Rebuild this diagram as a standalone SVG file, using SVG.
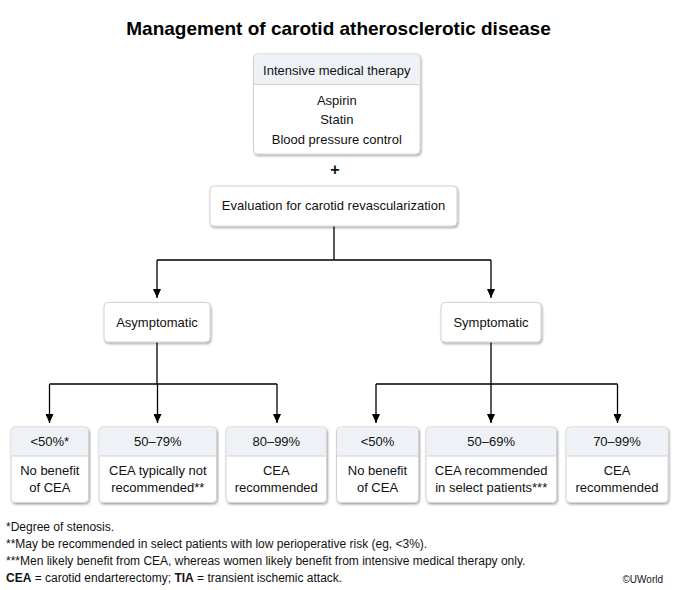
<svg xmlns="http://www.w3.org/2000/svg" width="677" height="590" viewBox="0 0 677 590">
<defs>
<filter id="sh" x="-10%" y="-10%" width="125%" height="130%">
<feDropShadow dx="1" dy="1.5" stdDeviation="1.2" flood-color="#000" flood-opacity="0.35"/>
</filter>
<marker id="ah" markerWidth="9" markerHeight="8" refX="9" refY="4" orient="auto" markerUnits="userSpaceOnUse" viewBox="0 0 9 8">
<path d="M0,0 L9,4 L0,8 Z" fill="#000"/>
</marker>
</defs>
<style>
text{font-family:"Liberation Sans",Arial,sans-serif;fill:#111;}
.t{font-size:13px;text-anchor:middle;}
.box{fill:#fff;stroke:#d2d2d2;stroke-width:1;filter:url(#sh);}
.hd{fill:#eef2f6;}
.dv{stroke:#d2d2d2;stroke-width:1;}
.ln{fill:none;stroke:#000;stroke-width:1.3;}
.fn{font-size:12px;}
</style>
<rect width="677" height="590" fill="#fff"/>
<text x="338.5" y="35" style="font-size:19px;font-weight:bold;text-anchor:middle;fill:#000">Management of carotid atherosclerotic disease</text>

<g id="connectors">
<path class="ln" d="M334,226 V260 M157,260 H491"/>
<path class="ln" d="M157,260 V298" marker-end="url(#ah)"/>
<path class="ln" d="M491,260 V298" marker-end="url(#ah)"/>
<path class="ln" d="M157,342 V384 M49.5,384 H277"/>
<path class="ln" d="M49.5,384 V423" marker-end="url(#ah)"/>
<path class="ln" d="M157.5,384 V423" marker-end="url(#ah)"/>
<path class="ln" d="M277,384 V423" marker-end="url(#ah)"/>
<path class="ln" d="M491,342 V384 M376,384 H617.5"/>
<path class="ln" d="M376,384 V423" marker-end="url(#ah)"/>
<path class="ln" d="M491,384 V423" marker-end="url(#ah)"/>
<path class="ln" d="M617.5,384 V423" marker-end="url(#ah)"/>
</g>

<g id="therapy">
<rect class="box" x="253.5" y="54" width="166.5" height="100" rx="4"/>
<path class="hd" d="M257.5,54.5 H416 A3.5,3.5 0 0 1 419.5,58 V84 H254 V58 A3.5,3.5 0 0 1 257.5,54.5 Z"/>
<line class="dv" x1="254" y1="84.5" x2="419.5" y2="84.5"/>
<text class="t" x="336.8" y="75">Intensive medical therapy</text>
<text class="t" x="336.8" y="104.5">Aspirin</text>
<text class="t" x="336.8" y="124">Statin</text>
<text class="t" x="336.8" y="143.5">Blood pressure control</text>
</g>

<text x="335" y="175" style="font-size:16px;font-weight:bold;text-anchor:middle">+</text>

<g id="evaluation">
<rect class="box" x="210" y="186" width="247" height="40" rx="4"/>
<text class="t" x="333.5" y="209.5">Evaluation for carotid revascularization</text>
</g>

<g id="asymptomatic">
<rect class="box" x="104" y="302.5" width="106" height="39.5" rx="4"/>
<text class="t" x="157" y="326.5">Asymptomatic</text>
</g>

<g id="symptomatic">
<rect class="box" x="441" y="302.5" width="100" height="39.5" rx="4"/>
<text class="t" x="491" y="326.5">Symptomatic</text>
</g>

<g id="a1">
<rect class="box" x="11" y="427" width="77.5" height="75.5" rx="4"/>
<path class="hd" d="M15,427.5 H84 A3.5,3.5 0 0 1 88,431 V456 H11.5 V431 A3.5,3.5 0 0 1 15,427.5 Z"/>
<line class="dv" x1="11.5" y1="456" x2="88" y2="456"/>
<text class="t" x="49.8" y="446">&lt;50%*</text>
<text class="t" x="49.8" y="475">No benefit</text>
<text class="t" x="49.8" y="491.5">of CEA</text>
</g>

<g id="a2">
<rect class="box" x="99" y="427" width="117.5" height="75.5" rx="4"/>
<path class="hd" d="M103,427.5 H212 A3.5,3.5 0 0 1 216,431 V456 H99.5 V431 A3.5,3.5 0 0 1 103,427.5 Z"/>
<line class="dv" x1="99.5" y1="456" x2="216" y2="456"/>
<text class="t" x="157.8" y="446">50–79%</text>
<text class="t" x="157.8" y="475">CEA typically not</text>
<text class="t" x="157.8" y="491.5">recommended**</text>
</g>

<g id="a3">
<rect class="box" x="226" y="427" width="100.5" height="75.5" rx="4"/>
<path class="hd" d="M230,427.5 H322.5 A3.5,3.5 0 0 1 326,431 V456 H226.5 V431 A3.5,3.5 0 0 1 230,427.5 Z"/>
<line class="dv" x1="226.5" y1="456" x2="326" y2="456"/>
<text class="t" x="276.3" y="446">80–99%</text>
<text class="t" x="276.3" y="475">CEA</text>
<text class="t" x="276.3" y="491.5">recommended</text>
</g>

<g id="s1">
<rect class="box" x="336.5" y="427" width="82" height="75.5" rx="4"/>
<path class="hd" d="M340.5,427.5 H414 A3.5,3.5 0 0 1 418,431 V456 H337 V431 A3.5,3.5 0 0 1 340.5,427.5 Z"/>
<line class="dv" x1="337" y1="456" x2="418" y2="456"/>
<text class="t" x="377.5" y="446">&lt;50%</text>
<text class="t" x="377.5" y="475">No benefit</text>
<text class="t" x="377.5" y="491.5">of CEA</text>
</g>

<g id="s2">
<rect class="box" x="426" y="427" width="130.5" height="75.5" rx="4"/>
<path class="hd" d="M430,427.5 H552 A3.5,3.5 0 0 1 556,431 V456 H426.5 V431 A3.5,3.5 0 0 1 430,427.5 Z"/>
<line class="dv" x1="426.5" y1="456" x2="556" y2="456"/>
<text class="t" x="491.2" y="446">50–69%</text>
<text class="t" x="491.2" y="475">CEA recommended</text>
<text class="t" x="491.2" y="491.5">in select patients***</text>
</g>

<g id="s3">
<rect class="box" x="566" y="427" width="102" height="75.5" rx="4"/>
<path class="hd" d="M570,427.5 H664 A3.5,3.5 0 0 1 667.5,431 V456 H566.5 V431 A3.5,3.5 0 0 1 570,427.5 Z"/>
<line class="dv" x1="566.5" y1="456" x2="667.5" y2="456"/>
<text class="t" x="617" y="446">70–99%</text>
<text class="t" x="617" y="475">CEA</text>
<text class="t" x="617" y="491.5">recommended</text>
</g>

<g id="footnotes">
<text class="fn" x="6" y="530.5">*Degree of stenosis.</text>
<text class="fn" x="6" y="547.5">**May be recommended in select patients with low perioperative risk (eg, &lt;3%).</text>
<text class="fn" x="6" y="564.5">***Men likely benefit from CEA, whereas women likely benefit from intensive medical therapy only.</text>
<text class="fn" x="6" y="582"><tspan font-weight="bold">CEA</tspan> = carotid endarterectomy; <tspan font-weight="bold">TIA</tspan> = transient ischemic attack.</text>
<text x="663" y="583" style="font-size:10px;text-anchor:end">©UWorld</text>
</g>
</svg>
